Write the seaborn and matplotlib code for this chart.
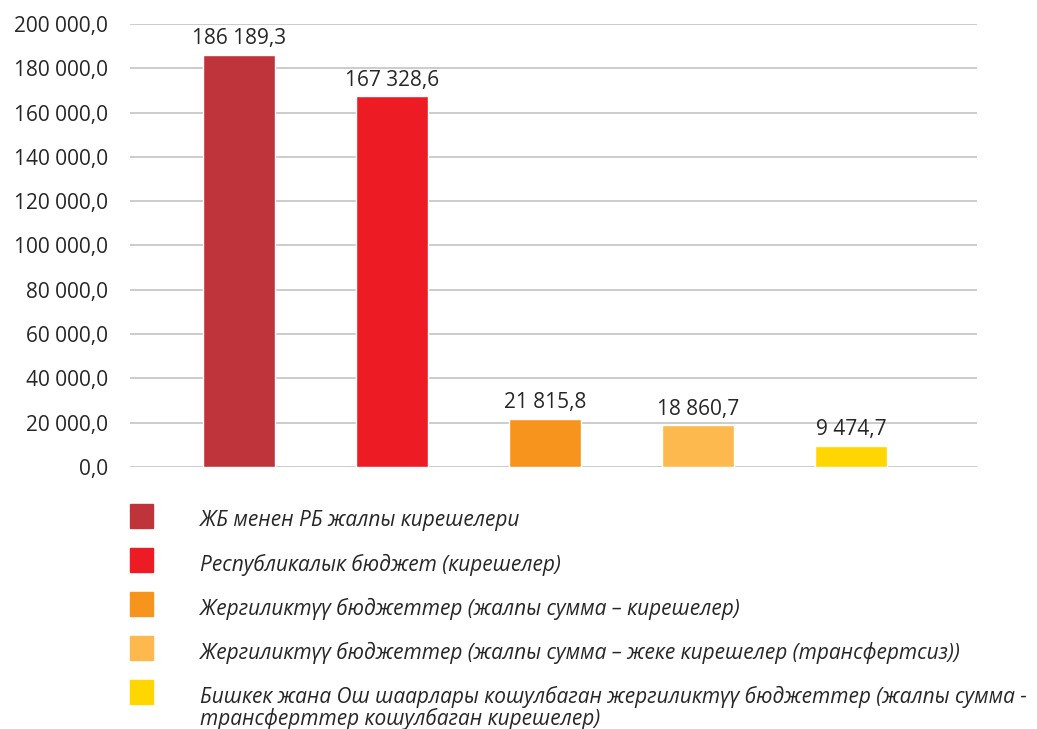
import numpy as np
import pandas as pd
import seaborn as sns
import matplotlib.pyplot as plt
from matplotlib.patches import Rectangle
from matplotlib.ticker import FuncFormatter

# data
categories = ['ЖБ менен РБ жалпы кирешелери',
              'Республикалык бюджет (кирешелер)',
              'Жергиликтүү бюджеттер (жалпы сумма – кирешелер)',
              'Жергиликтүү бюджеттер (жалпы сумма – жеке кирешелер (трансфертсиз))',
              'Бишкек жана Ош шаарлары кошулбаган жергиликтүү бюджеттер (жалпы сумма -\nтрансферттер кошулбаган кирешелер)']
values = [186189.3, 167328.6, 21815.8, 18860.7, 9474.7]
colors = ['#BF343B', '#ED1C24', '#F7941D', '#FDB94E', '#FFD600']

def fmt(v, pos=None):
    return f"{v:,.1f}".replace(",", " ").replace(".", ",")

df = pd.DataFrame({'cat': categories, 'value': values})

sns.set_style('white')
plt.rcParams['font.family'] = ['Open Sans', 'DejaVu Sans']
txt_col = '#262626'
fs = 15

fig = plt.figure(figsize=(10.37, 7.29), dpi=100)
ax = fig.add_axes([130/1037, 1-467/729, 847/1037, 443/729])

sns.barplot(data=df, x='cat', y='value', hue='cat', palette=colors,
            width=0.47, saturation=1, legend=False, ax=ax)

for cont, v in zip(ax.containers, values):
    ax.bar_label(cont, labels=[fmt(v)], padding=4, fontsize=fs, color=txt_col)

ax.set_ylim(0, 200000)
ax.set_xlim(-0.712, 4.824)
ax.set_yticks(np.arange(0, 200001, 20000))
ax.yaxis.set_major_formatter(FuncFormatter(fmt))
ax.tick_params(axis='y', length=0, pad=16, labelsize=fs, labelcolor=txt_col)
ax.set_xticks([])
ax.set_xlabel('')
ax.set_ylabel('')
ax.grid(axis='y', color='#BFBFBF', linewidth=1.1)
ax.set_axisbelow(True)
for s in ax.spines.values():
    s.set_visible(False)

# legend drawn by hand below the plot
for i, (lab, col) in enumerate(zip(categories, colors)):
    yc = 1 - (516 + 44 * i) / 729
    fig.patches.append(Rectangle((130/1037, yc - 12/729), 23/1037, 24/729,
                                 transform=fig.transFigure, color=col))
    fig.text(200/1037, yc + 6/729, lab, fontsize=fs, style='italic',
             color=txt_col, va='top', ha='left', linespacing=1.0)

fig.savefig('out.png', dpi=100)
